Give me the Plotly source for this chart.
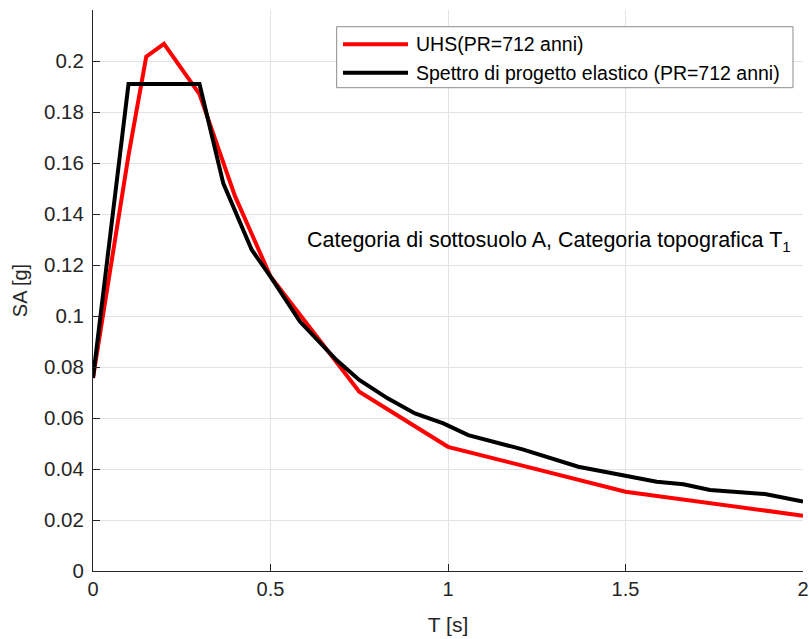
import plotly.graph_objects as go

# UHS (PR=712 anni)
T_uhs = [0.0, 0.1, 0.15, 0.2, 0.3, 0.4, 0.5, 0.75, 1.0, 1.5, 2.0]
SA_uhs = [0.0757, 0.163, 0.2017, 0.2067, 0.187, 0.147, 0.1155, 0.0703, 0.0487, 0.0311, 0.0217]

# Spettro di progetto elastico (PR=712 anni)
T_el = [0.0, 0.1, 0.3, 0.367, 0.447, 0.5, 0.583, 0.686, 0.75, 0.83, 0.907, 0.987,
        1.057, 1.21, 1.367, 1.5, 1.588, 1.663, 1.738, 1.893, 2.0]
SA_el = [0.0757, 0.191, 0.191, 0.152, 0.126, 0.1154, 0.0978, 0.0827, 0.0749, 0.0677,
         0.0618, 0.0579, 0.0533, 0.0477, 0.0409, 0.0373, 0.035, 0.034, 0.0318, 0.0302, 0.0272]

x_ticks = [0, 0.5, 1, 1.5, 2]
x_ticktext = ["0", "0.5", "1", "1.5", "2"]
y_ticks = [0, 0.02, 0.04, 0.06, 0.08, 0.1, 0.12, 0.14, 0.16, 0.18, 0.2]
y_ticktext = ["0", "0.02", "0.04", "0.06", "0.08", "0.1", "0.12", "0.14", "0.16", "0.18", "0.2"]

name_uhs = "UHS(PR=712 anni)"
name_el = "Spettro di progetto elastico (PR=712 anni)"
note = "Categoria di sottosuolo A, Categoria topografica T<sub>1</sub>"

FONT = "Liberation Sans, Arial, sans-serif"
AX = "#262626"
GRID = "#e3e3e3"

fig = go.Figure()
fig.add_trace(go.Scatter(x=T_uhs, y=SA_uhs, mode="lines", name=name_uhs,
                         line=dict(color="#ff0000", width=4), showlegend=False))
fig.add_trace(go.Scatter(x=T_el, y=SA_el, mode="lines", name=name_el,
                         line=dict(color="#000000", width=4), showlegend=False))

fig.update_xaxes(range=[0, 2], tickvals=x_ticks, ticktext=x_ticktext, automargin=False,
                 showgrid=True, gridcolor=GRID, gridwidth=1,
                 showline=True, linecolor=AX, linewidth=1, mirror=False,
                 ticks="inside", ticklen=7, tickcolor=AX, zeroline=False,
                 tickfont=dict(family=FONT, size=20, color=AX),
                 title=dict(text="T [s]", font=dict(family=FONT, size=21, color=AX), standoff=18))
fig.update_yaxes(range=[0, 0.22], tickvals=y_ticks, ticktext=y_ticktext, automargin=False,
                 showgrid=True, gridcolor=GRID, gridwidth=1,
                 showline=True, linecolor=AX, linewidth=1, mirror=False,
                 ticks="inside", ticklen=7, tickcolor=AX, zeroline=False,
                 ticklabelstandoff=4,
                 tickfont=dict(family=FONT, size=20.5, color=AX),
                 title=dict(text="SA [g]", font=dict(family=FONT, size=20, color=AX), standoff=10))

# manual legend (paper coords of plot area)
fig.add_shape(type="rect", xref="paper", yref="paper", x0=0.3432, x1=0.9859, y0=0.8615, y1=0.9702,
              line=dict(color="#8c8c8c", width=1), fillcolor="white", layer="above")
for yy, col, txt in [(0.9389, "#ff0000", name_uhs), (0.8883, "#000000", name_el)]:
    fig.add_shape(type="line", xref="paper", yref="paper", x0=0.3521, x1=0.4437, y0=yy, y1=yy,
                  line=dict(color=col, width=4), layer="above")
    fig.add_annotation(xref="paper", yref="paper", x=0.4521, y=yy, text=txt, showarrow=False,
                       xanchor="left", yanchor="middle",
                       font=dict(family=FONT, size=19.5, color="#000000"))

fig.add_annotation(xref="paper", yref="paper", x=0.2986, y=0.588, text=note, showarrow=False,
                   xanchor="left", yanchor="middle",
                   font=dict(family=FONT, size=21.5, color="#000000"))

fig.update_layout(width=809, height=639, margin=dict(l=93, r=6, t=10, b=68),
                  plot_bgcolor="white", paper_bgcolor="white",
                  font=dict(family=FONT, color=AX))

fig.write_html("out.html")
